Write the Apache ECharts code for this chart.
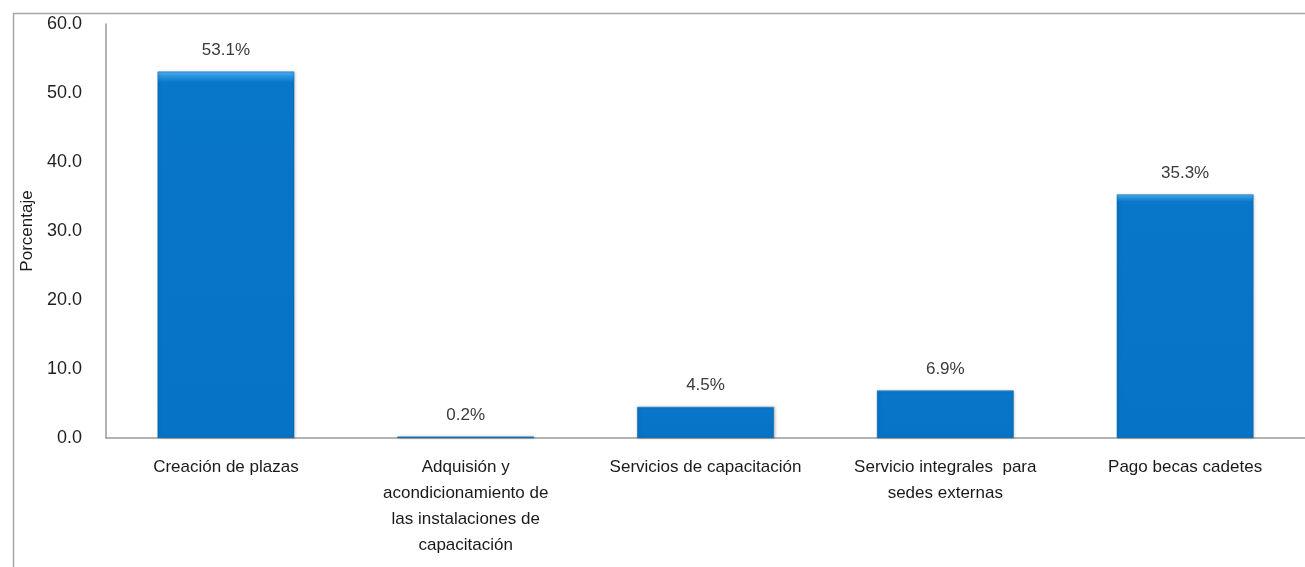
<!DOCTYPE html>
<html>
<head>
<meta charset="utf-8">
<script src="https://cdn.jsdelivr.net/npm/echarts@6/dist/echarts.min.js"></script>
<style>
  html, body { margin: 0; padding: 0; background: #fff; }
  #chart { width: 1305px; height: 567px; }
</style>
</head>
<body>
<div id="chart"></div>
<script>
// categorias (saltos de linea como en el original)
var categorias = [
  'Creación de plazas',
  'Adquisión y\nacondicionamiento de\nlas instalaciones de\ncapacitación',
  'Servicios de capacitación',
  'Servicio integrales  para\nsedes externas',
  'Pago becas cadetes'
];
var porcentajes = [53.1, 0.2, 4.5, 6.9, 35.3];
var ejeY = { min: 0, max: 60, interval: 10 };

var chart = echarts.init(document.getElementById('chart'));
var fuente = 'Liberation Sans';

chart.setOption({
  animation: false,
  textStyle: { fontFamily: fuente },
  graphic: [{
    type: 'rect',
    left: 11, top: 11,
    shape: { width: 1400, height: 700 },
    style: { fill: 'none', stroke: '#a6a6a6', lineWidth: 1.5 },
    silent: true
  }],
  grid: { left: 106, top: 24, width: 1213, height: 414, containLabel: false },
  xAxis: {
    type: 'category',
    data: categorias,
    axisLine: { lineStyle: { color: '#9a9a9a', width: 1.5 } },
    axisTick: { show: false },
    axisLabel: {
      color: '#1a1a1a',
      fontSize: 17,
      lineHeight: 26,
      margin: 16,
      interval: 0
    }
  },
  yAxis: {
    type: 'value',
    min: ejeY.min, max: ejeY.max, interval: ejeY.interval,
    name: 'Porcentaje',
    nameLocation: 'middle',
    nameGap: 68,
    nameTextStyle: { color: '#1a1a1a', fontSize: 17 },
    axisLine: { show: true, lineStyle: { color: '#9a9a9a', width: 1.5 } },
    axisTick: { show: false },
    splitLine: { show: false },
    axisLabel: {
      color: '#1f1f1f',
      fontSize: 18,
      margin: 24,
      formatter: function (v) { return v.toFixed(1); }
    }
  },
  series: [{
    type: 'bar',
    data: porcentajes,
    barWidth: '57%',
    itemStyle: {
      color: new echarts.graphic.LinearGradient(0, 0, 0, 1, [
        { offset: 0, color: '#4fb3f2' },
        { offset: 0.012, color: '#2a95e0' },
        { offset: 0.03, color: '#0876c9' },
        { offset: 1, color: '#0673c6' }
      ]),
      borderColor: '#0a5fa3',
      borderWidth: 0.5,
      shadowColor: 'rgba(0,0,0,0.25)',
      shadowBlur: 3,
      shadowOffsetX: 1
    },
    label: {
      show: true,
      position: 'top',
      distance: 13,
      color: '#3a3a3a',
      fontSize: 17,
      formatter: function (p) { return p.value.toFixed(1) + '%'; }
    }
  }]
});
</script>
</body>
</html>
